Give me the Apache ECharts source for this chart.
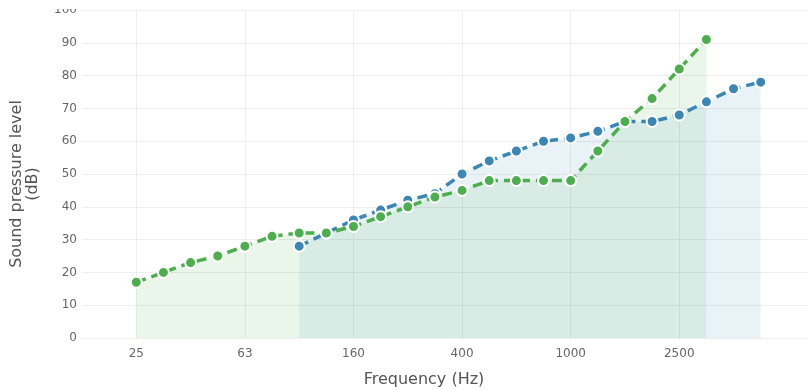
<!DOCTYPE html>
<html>
<head>
<meta charset="utf-8">
<script src="https://cdn.jsdelivr.net/npm/echarts@6/dist/echarts.min.js"></script>
<style>html,body{margin:0;padding:0;background:#fff;overflow:hidden;width:808px;height:390px}#c{width:815px;height:390px}</style>
</head>
<body>
<div id="c"></div>
<script>
const categories = ['16','20','25','31.5','40','50','63','80','100','125','160','200','250','315','400','500','630','800','1000','1250','1600','2000','2500','3150','4000','5000','6300','8000'];
const seriesA = [null,null,null,null,null,null,null,null,28,32,36,39,42,44,50,54,57,60,61,63,66,66,68,72,76,78,null,null];
const seriesB = [null,null,17,20,23,25,28,31,32,32,34,37,40,43,45,48,48,48,48,57,66,73,82,91,null,null,null,null];
const yTicks = [0,10,20,30,40,50,60,70,80,90,100];
const xTitle = 'Frequency (Hz)';
const yTitle = 'Sound pressure level\n(dB)';

const showIdx = (i) => i >= 2 && (i - 2) % 4 === 0 && i <= 22;
const chart = echarts.init(document.getElementById('c'), null, {renderer: 'canvas'});
const blue = '#3a86b5', green = '#4cae4c';
function mk(name, data, color) {
  return {
    name, type: 'line', data,
    symbol: 'circle', symbolSize: 11,
    lineStyle: {color, width: 3.5, type: [10, 6]},
    itemStyle: {color, borderColor: '#fff', borderWidth: 2},
    areaStyle: {color, opacity: 0.11},
    connectNulls: false,
    animation: false
  };
}
chart.setOption({
  animation: false,
  grid: {left: 82, right: 0, top: 10, bottom: 52, containLabel: false},
  xAxis: {
    type: 'category', data: categories, boundaryGap: false,
    axisLine: {show: false}, axisTick: {show: false},
    axisLabel: {interval: (i) => showIdx(i), color: '#666', fontFamily: 'DejaVu Sans', fontSize: 12, margin: 10},
    splitLine: {show: true, interval: (i) => showIdx(i), lineStyle: {color: '#eee', width: 1}}
  },
  yAxis: {
    type: 'value', min: yTicks[0], max: yTicks[yTicks.length - 1], interval: 10,
    axisLine: {show: false}, axisTick: {show: false},
    axisLabel: {color: '#666', fontFamily: 'DejaVu Sans', fontSize: 12, margin: 5},
    splitLine: {lineStyle: {color: '#eee', width: 1}}
  },
  graphic: [
    {type: 'rect', left: 0, top: 0, z: 100, shape: {width: 815, height: 9}, style: {fill: '#fff'}},
    {type: 'text', x: 424, y: 380, z: 100, style: {text: xTitle, fill: '#555', font: '16px "DejaVu Sans"', textAlign: 'center', textVerticalAlign: 'middle'}},
    {type: 'text', x: 25, y: 184, rotation: Math.PI / 2, z: 100, style: {text: yTitle, fill: '#555', font: '16px "DejaVu Sans"', lineHeight: 16, textAlign: 'center', textVerticalAlign: 'middle'}}
  ],
  series: [mk('A', seriesA, blue), mk('B', seriesB, green)]
});
</script>
</body>
</html>
